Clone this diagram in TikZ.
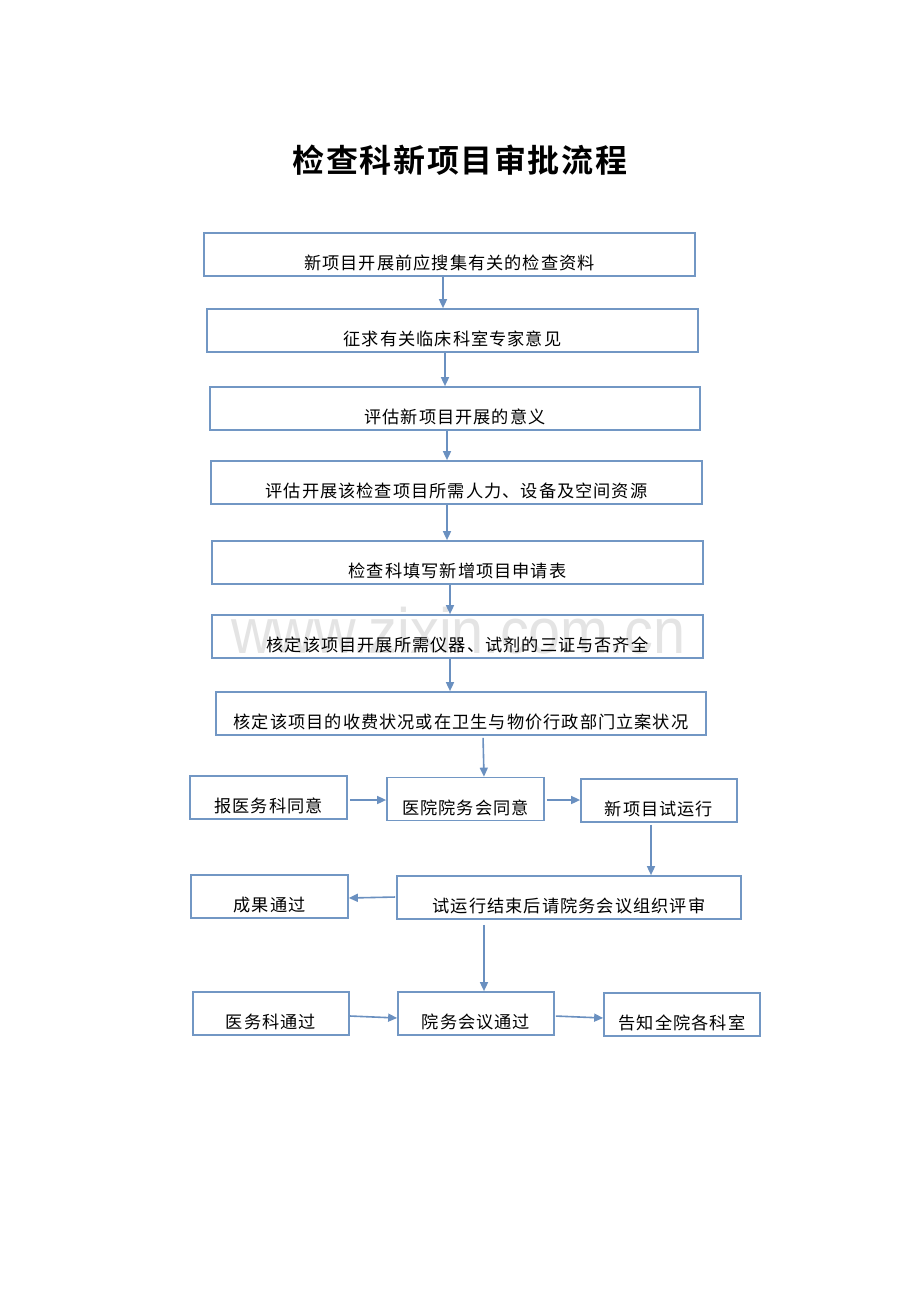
\documentclass[tikz,border=0pt]{standalone}
\usepackage{fontspec}
\setmainfont{Liberation Sans}
\newfontfamily\cjk[LetterSpace=6]{Noto Sans CJK SC}
\newfontfamily\cjkbold[LetterSpace=5]{Noto Sans CJK SC Bold}
\newfontfamily\wmfont{Liberation Sans}
\usetikzlibrary{arrows.meta}
\definecolor{boxblue}{HTML}{7297C4}
\definecolor{arrowblue}{HTML}{6A90C0}
\definecolor{wmgray}{HTML}{E4E4E4}
\begin{document}
\begin{tikzpicture}[x=1pt,y=-1pt,
  box/.style={draw=boxblue,line width=1.7pt,rectangle,inner xsep=0pt,inner ysep=4pt,
    text height=32.5pt,text depth=2.5pt,font=\cjk\fontsize{17.2}{20}\selectfont,text=black},
  wide/.style={box,minimum width=491pt},
  small/.style={box,minimum width=156pt},
  arr/.style={draw=arrowblue,line width=1.6pt,-{Triangle[length=9pt,width=8pt]}}
]
\useasboundingbox (0,0) rectangle (920,1302);
\fill[white] (0,0) rectangle (920,1302);
% watermark
\node[wmgray,font=\wmfont\fontsize{64}{70}\selectfont,xscale=0.9,anchor=base west] (wm) at (228,653) {www.zixin.com.cn};
% title
\node[font=\cjkbold\fontsize{32}{36}\selectfont] (title) at (460,160) {检查科新项目审批流程};
% main column
\node[wide] (b1) at (449.5,254.5) {新项目开展前应搜集有关的检查资料};
\node[wide] (b2) at (452.5,330.5) {征求有关临床科室专家意见};
\node[wide,minimum width=490pt] (b3) at (455,408.5) {评估新项目开展的意义};
\node[wide] (b4) at (456.5,482.5) {评估开展该检查项目所需人力、设备及空间资源};
\node[wide] (b5) at (457.5,562.5) {检查科填写新增项目申请表};
\node[wide] (b6) at (457.5,636.5) {核定该项目开展所需仪器、试剂的三证与否齐全};
\node[wide,minimum width=490pt] (b7) at (461,713.5) {核定该项目的收费状况或在卫生与物价行政部门立案状况};
% row 1
\node[small,minimum width=157pt] (r1) at (268.5,797.5) {报医务科同意};
\node[small,minimum width=157pt] (r2) at (465.5,799) {医院院务会同意};
\node[small] (r3) at (659,800.5) {新项目试运行};
% row 2
\node[small,minimum width=157pt] (s1) at (269.5,896.5) {成果通过};
\node[box,minimum width=344pt] (s2) at (569,897.5) {试运行结束后请院务会议组织评审};
% row 3
\node[small] (t1) at (271,1013.5) {医务科通过};
\node[small] (t2) at (476,1013.5) {院务会议通过};
\node[small] (t3) at (682,1014.5) {告知全院各科室};
% arrows in the column
\draw[arr] ([xshift=-6.5pt]b1.south) -- ([xshift=-9.5pt]b2.north);
\draw[arr] ([xshift=-7.5pt]b2.south) -- ([xshift=-10pt]b3.north);
\draw[arr] ([xshift=-8pt]b3.south) -- ([xshift=-9.5pt]b4.north);
\draw[arr] ([xshift=-9.5pt]b4.south) -- ([xshift=-10.5pt]b5.north);
\draw[arr] ([xshift=-7.5pt]b5.south) -- ([xshift=-7.5pt]b6.north);
\draw[arr] ([xshift=-7.5pt]b6.south) -- ([xshift=-11pt]b7.north);
\draw[arr,shorten <=2pt] ([xshift=22pt]b7.south) -- ([xshift=18.5pt]r2.north);
\draw[arr,shorten <=2pt] ([yshift=-2.5pt]r1.east) -- ([yshift=-1pt]r2.west);
\draw[arr,shorten <=2pt] ([yshift=-1pt]r2.east) -- ([yshift=0.5pt]r3.west);
\draw[arr,shorten <=2pt] ([xshift=-8pt]r3.south) -- ([xshift=82pt]s2.north);
\draw[arr,shorten <=1pt] ([yshift=0.5pt]s2.west) -- ([yshift=-1.5pt]s1.east);
\draw[arr,shorten <=5pt] ([xshift=-85pt]s2.south) -- ([xshift=8pt]t2.north);
\draw[arr] ([yshift=-2.5pt]t1.east) -- ([yshift=-4.5pt]t2.west);
\draw[arr,shorten <=1pt] ([yshift=-2.5pt]t2.east) -- ([yshift=-3.5pt]t3.west);
\end{tikzpicture}
\end{document}
